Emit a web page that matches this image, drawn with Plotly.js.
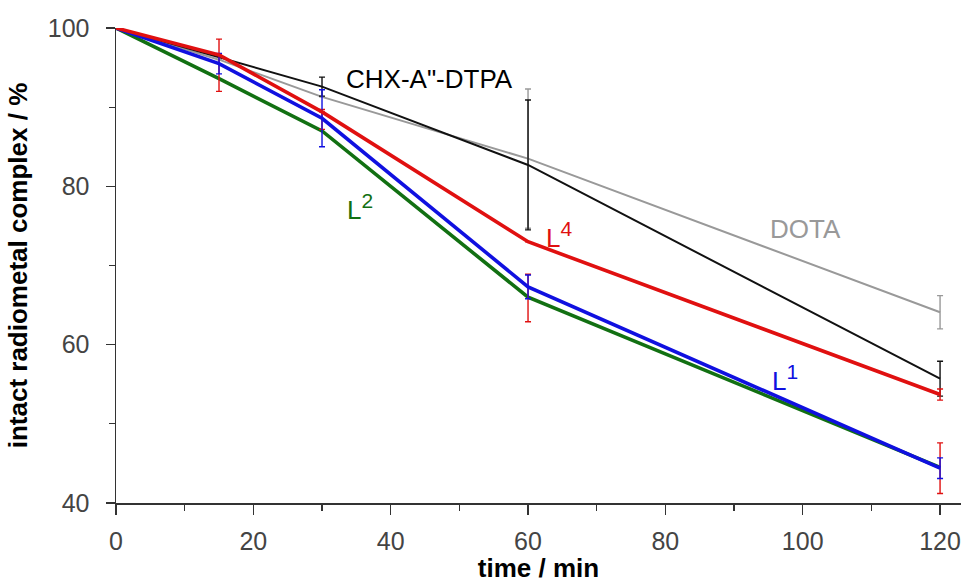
<!DOCTYPE html>
<html>
<head>
<meta charset="utf-8">
<script src="https://cdn.plot.ly/plotly-3.0.1.min.js"></script>
<style>html,body{margin:0;padding:0;background:#fff;}#chart{width:962px;height:583px;}</style>
</head>
<body>
<div id="chart"></div>
<script>
// time points (min)
var timeAll = [0, 15, 30, 60, 120];
var timeChx = [0, 30, 60, 120];

// CHX-A"-DTPA (black)
var chxVals = [100, 92.6, 82.7, 55.7];
var chxErr = [0, 1.2, 8.2, 2.2];

// DOTA (gray)
var dotaVals = [100, 96.0, 91.3, 83.5, 64.1];
var dotaErr = [0, 0, 0, 8.8, 2.1];

// L1 (blue)
var l1Vals = [100, 95.5, 88.6, 67.3, 44.4];
var l1Err = [0, 1.3, 3.6, 1.5, 1.3];
// red error bars drawn on the L1 points
var l1RedPlus = [0, 3.1, 1.1, 1.6, 3.2];
var l1RedMinus = [0, 3.5, 1.4, 4.4, 3.2];

// L2 (green)
var l2Vals = [100, 93.6, 87.0, 66.0, 44.5];

// L4 (red)
var l4Vals = [100, 96.6, 89.4, 73.0, 53.7];
var l4Err = [0, 0, 0, 0, 0.7];

var xTicks = [0, 20, 40, 60, 80, 100, 120];
var yTicks = [40, 60, 80, 100];

var RED = '#e01010', BLUE = '#1010e0', GREEN = '#127012', GRAY = '#999999', BLACK = '#111111';

function errCfg(arr, color) {
  return {type: 'data', array: arr, visible: true, color: color, thickness: 1.4, width: 3};
}

function supLabel(base, sup) {
  return base + '<sup><span style="font-size:21px">' + sup + '</span></sup>';
}

var traces = [
  {x: timeAll, y: dotaVals, mode: 'lines', line: {color: GRAY, width: 2}, error_y: errCfg(dotaErr, GRAY)},
  {x: timeChx, y: chxVals, mode: 'lines', line: {color: BLACK, width: 2}, error_y: errCfg(chxErr, BLACK)},
  {x: timeAll, y: l2Vals, mode: 'lines', line: {color: GREEN, width: 3.6}},
  {x: timeAll, y: l1Vals, mode: 'markers', marker: {size: 1, opacity: 0},
   error_y: {type: 'data', symmetric: false, array: l1RedPlus, arrayminus: l1RedMinus, visible: true, color: RED, thickness: 1.4, width: 3}},
  {x: timeAll, y: l1Vals, mode: 'lines', line: {color: BLUE, width: 3.6}, error_y: errCfg(l1Err, BLUE)},
  {x: timeAll, y: l4Vals, mode: 'lines', line: {color: RED, width: 3.6}, error_y: errCfg(l4Err, RED)}
];

var layout = {
  width: 962, height: 583,
  margin: {l: 116, r: 1, t: 28, b: 80},
  paper_bgcolor: '#fff', plot_bgcolor: '#fff',
  showlegend: false,
  font: {family: 'Liberation Sans, Arial, sans-serif', color: '#444'},
  xaxis: {
    range: [0, 123.05], showgrid: false, zeroline: false,
    showline: true, linecolor: '#333', linewidth: 1.5,
    ticks: 'outside', ticklen: 10, tickwidth: 1.5, tickcolor: '#333',
    tickvals: xTicks, ticktext: xTicks.map(String),
    minor: {dtick: 10, tick0: 0, ticks: 'outside', ticklen: 6, tickwidth: 1.3, tickcolor: '#333', showgrid: false},
    tickfont: {size: 25, color: '#444'},
    ticklabelstandoff: 5,
    title: {text: '<b>time / min</b>', font: {size: 26, color: '#000'}, standoff: 6}
  },
  yaxis: {
    range: [40, 100], showgrid: false, zeroline: false,
    showline: true, linecolor: '#333', linewidth: 1.5,
    ticks: 'outside', ticklen: 9, tickwidth: 1.5, tickcolor: '#333',
    tickvals: yTicks, ticktext: yTicks.map(String),
    minor: {dtick: 10, tick0: 0, ticks: 'outside', ticklen: 6, tickwidth: 1.3, tickcolor: '#333', showgrid: false},
    tickfont: {size: 25, color: '#444'},
    ticklabelstandoff: 11,
    title: {text: '<b>intact radiometal complex / %</b>', font: {size: 26, color: '#000'}, standoff: 12}
  },
  annotations: [
    {x: 45.7, y: 93.5, text: 'CHX-A"-DTPA', showarrow: false, xanchor: 'center', yanchor: 'middle', font: {size: 26, color: '#000'}},
    {x: 100.4, y: 74.6, text: 'DOTA', showarrow: false, xanchor: 'center', yanchor: 'middle', font: {size: 26, color: GRAY}},
    {x: 33.4, y: 77.4, text: supLabel('L', '2'), showarrow: false, xanchor: 'left', yanchor: 'middle', font: {size: 26, color: GREEN}},
    {x: 62.3, y: 73.9, text: supLabel('L', '4'), showarrow: false, xanchor: 'left', yanchor: 'middle', font: {size: 26, color: RED}},
    {x: 95.2, y: 55.8, text: supLabel('L', '1'), showarrow: false, xanchor: 'left', yanchor: 'middle', font: {size: 26, color: BLUE}}
  ]
};

Plotly.newPlot('chart', traces, layout, {staticPlot: true, displayModeBar: false});
</script>
</body>
</html>
